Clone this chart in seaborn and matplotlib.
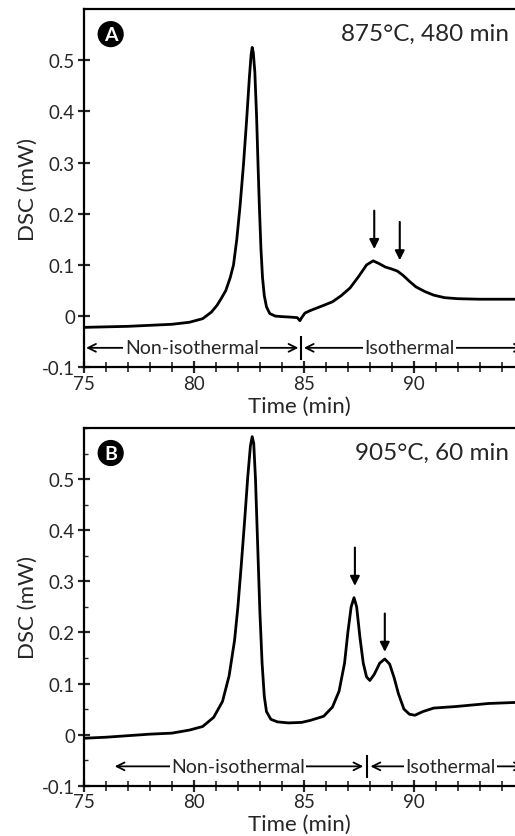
import matplotlib
matplotlib.use("Agg")
from matplotlib import pyplot as plt
from matplotlib.ticker import MultipleLocator
import seaborn as sns
import numpy as np

sns.set_style("ticks")
plt.rcParams['font.family'] = ['Lato', 'DejaVu Sans']

# panel A: 875°C, 480 min
time_a = [75.0, 76.0, 77.0, 78.0, 79.0, 79.8, 80.4, 80.8, 81.05, 81.25, 81.45,
          81.65, 81.8, 81.95, 82.1, 82.25, 82.4, 82.52, 82.6, 82.65, 82.7, 82.77,
          82.85, 82.92, 82.98, 83.05, 83.12, 83.2, 83.3, 83.45, 83.7, 84.0, 84.4,
          84.7, 84.82, 84.9, 85.05, 85.3, 85.9, 86.3, 86.7, 87.1, 87.5, 87.85,
          88.15, 88.4, 88.7, 89.0, 89.25, 89.5, 89.8, 90.1, 90.5, 90.9, 91.4,
          92.0, 93.0, 94.6]
dsc_a = [-0.022, -0.021, -0.020, -0.018, -0.016, -0.012, -0.005, 0.008, 0.021,
         0.035, 0.050, 0.075, 0.100, 0.150, 0.216, 0.294, 0.385, 0.465, 0.510,
         0.525, 0.515, 0.477, 0.390, 0.290, 0.210, 0.130, 0.075, 0.040, 0.018,
         0.005, 0.000, -0.001, -0.002, -0.003, -0.009, -0.003, 0.006, 0.011,
         0.021, 0.028, 0.040, 0.055, 0.078, 0.100, 0.108, 0.103, 0.096, 0.092,
         0.088, 0.080, 0.068, 0.057, 0.048, 0.041, 0.036, 0.034, 0.033, 0.033]

# panel B: 905°C, 60 min
time_b = [75.0, 76.0, 77.0, 78.0, 79.0, 79.8, 80.4, 80.9, 81.3, 81.6, 81.85,
          82.0, 82.15, 82.3, 82.45, 82.57, 82.65, 82.72, 82.8, 82.9, 83.0, 83.1,
          83.2, 83.3, 83.5, 83.8, 84.3, 84.9, 85.3, 85.9, 86.3, 86.6, 86.85,
          87.0, 87.15, 87.28, 87.4, 87.55, 87.7, 87.85, 88.0, 88.2, 88.45,
          88.68, 88.9, 89.1, 89.3, 89.55, 89.8, 90.05, 90.4, 90.9, 91.9, 93.4,
          94.6]
dsc_b = [-0.007, -0.005, -0.002, 0.001, 0.003, 0.009, 0.016, 0.034, 0.065,
         0.115, 0.185, 0.250, 0.330, 0.415, 0.505, 0.565, 0.583, 0.570, 0.500,
         0.370, 0.240, 0.140, 0.075, 0.045, 0.030, 0.025, 0.023, 0.024, 0.028,
         0.036, 0.054, 0.085, 0.140, 0.200, 0.250, 0.268, 0.250, 0.190, 0.140,
         0.113, 0.106, 0.118, 0.140, 0.148, 0.138, 0.112, 0.080, 0.050, 0.040,
         0.038, 0.045, 0.052, 0.055, 0.061, 0.063]

yticks = [-0.1, 0, 0.1, 0.2, 0.3, 0.4, 0.5]
ytick_labels = ['-0.1', '0', '0.1', '0.2', '0.3', '0.4', '0.5']
xticks = [75, 80, 85, 90]

panels = [
    dict(t=time_a, y=dsc_a, letter='A', cond='875°C, 480 min',
         split=84.85, non=(75.1, 84.75), iso=(85.0, 95.0),
         non_text=79.9, iso_text=89.8,
         peaks=[(88.2, 0.131), (89.36, 0.109)], minor_y=False),
    dict(t=time_b, y=dsc_b, letter='B', cond='905°C, 60 min',
         split=87.88, non=(76.4, 87.7), iso=(88.03, 95.0),
         non_text=82.0, iso_text=91.65,
         peaks=[(87.32, 0.291), (88.68, 0.162)], minor_y=True),
]

fig = plt.figure(figsize=(5.15, 8.37), dpi=100)
rects = [[0.163, 0.560, 0.837, 0.428], [0.163, 0.060, 0.837, 0.4275]]

for p, rect in zip(panels, rects):
    ax = fig.add_axes(rect)
    sns.lineplot(x=p['t'], y=p['y'], ax=ax, color='black', lw=2.0,
                 estimator=None, sort=False)
    ax.set_xlim(75, 94.6)
    ax.set_ylim(-0.1, 0.6)
    ax.set_xticks(xticks)
    ax.set_xticklabels([str(v) for v in xticks])
    ax.xaxis.set_minor_locator(MultipleLocator(1))
    ax.set_yticks(yticks)
    ax.set_yticklabels(ytick_labels)
    if p['minor_y']:
        ax.yaxis.set_minor_locator(MultipleLocator(0.05))
        ax.tick_params(axis='y', which='minor', direction='in', length=3, width=1)
    ax.tick_params(axis='x', which='major', direction='inout', length=9, width=1.6,
                   labelsize=13.5, pad=1)
    ax.tick_params(axis='x', which='minor', direction='inout', length=7, width=1.2)
    ax.tick_params(axis='y', which='major', direction='inout', length=9, width=1.6,
                   labelsize=13.5, pad=2)
    for s in ['left', 'bottom', 'top']:
        ax.spines[s].set_linewidth(1.6)
        ax.spines[s].set_color('black')
    ax.spines['right'].set_visible(False)
    ax.set_xlabel('Time (min)', fontsize=16, labelpad=2.5)
    ax.set_ylabel('DSC (mW)', fontsize=16, labelpad=3)

    # phase markers
    yl = -0.062
    ax.vlines(p['split'], -0.085, -0.039, color='black', lw=1.5)
    ax.text(p['non_text'], yl, 'Non-isothermal', ha='center', va='center',
            fontsize=14, bbox=dict(fc='white', ec='none', pad=1))
    ax.text(p['iso_text'], yl, 'Isothermal', ha='center', va='center',
            fontsize=14, bbox=dict(fc='white', ec='none', pad=1))
    arrow = dict(arrowstyle='->', lw=1.3, color='black', mutation_scale=14,
                 shrinkA=0, shrinkB=0)
    ax.annotate('', xy=(p['non'][0], yl), xytext=(p['non_text'], yl),
                arrowprops=arrow, zorder=0)
    ax.annotate('', xy=(p['non'][1], yl), xytext=(p['non_text'], yl),
                arrowprops=arrow, zorder=0)
    ax.annotate('', xy=(p['iso'][0], yl), xytext=(p['iso_text'], yl),
                arrowprops=arrow, zorder=0, annotation_clip=False)
    ax.annotate('', xy=(p['iso'][1], yl), xytext=(p['iso_text'], yl),
                arrowprops=arrow, zorder=0, annotation_clip=False)

    # peak arrows
    for px, py in p['peaks']:
        ax.annotate('', xy=(px, py), xytext=(px, py + 0.075),
                    arrowprops=dict(arrowstyle='-|>', lw=1.5, color='black',
                                    mutation_scale=14, shrinkA=0, shrinkB=0))

    ax.text(0.062, 0.93, p['letter'], transform=ax.transAxes, ha='center',
            va='center', color='white', fontsize=14, fontweight='bold',
            bbox=dict(boxstyle='circle,pad=0.2', fc='black', ec='black'))
    ax.text(0.985, 0.933, p['cond'], transform=ax.transAxes, ha='right',
            va='center', fontsize=17.5, clip_on=False)

fig.savefig('out.png', dpi=100)
